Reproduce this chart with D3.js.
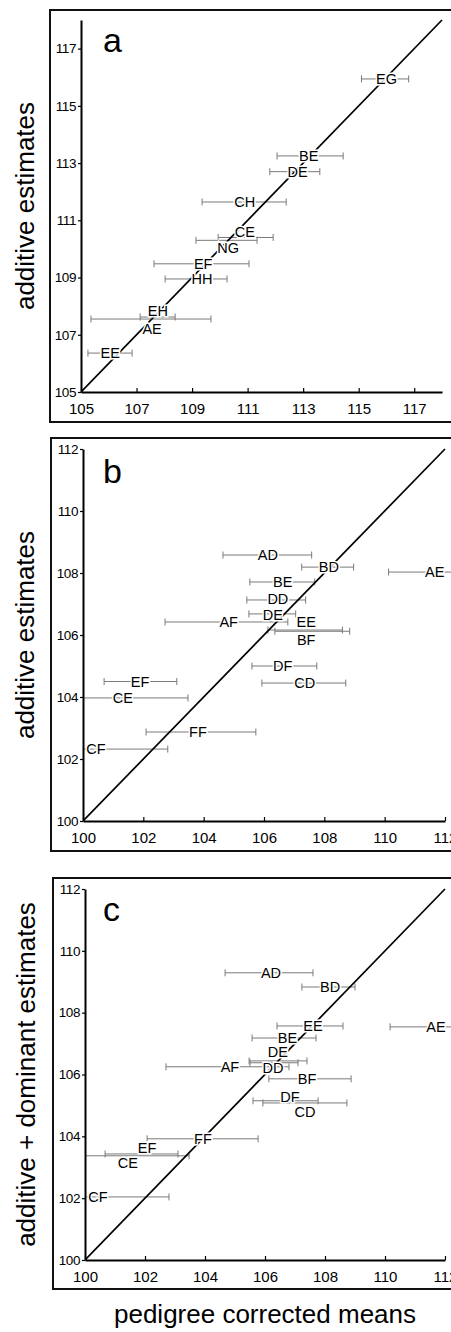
<!DOCTYPE html>
<html>
<head>
<meta charset="utf-8">
<script src="https://cdn.jsdelivr.net/npm/d3@7"></script>
<style>
  body { margin: 0; background: #fff; }
  text { font-family: "Liberation Sans", Arial, Helvetica, sans-serif; }
</style>
</head>
<body>
<div id="chart"></div>
<script>
var width = 451,
    height = 1332;

// panel a: additive estimates vs pedigree corrected means
var aCrosses = ["EG", "BE", "DE", "CH", "CE", "NG", "EF", "HH", "EH", "AE", "EE"];
var aMeans   = [116.0, 113.2, 112.8, 110.9, 110.9, 110.3, 109.4, 109.36, 107.77, 107.56, 106.05];
var aLow     = [115.1, 112.06, 111.8, 109.36, 109.94, 109.14, 107.63, 108.03, 107.13, 105.36, 105.25];
var aHigh    = [116.8, 114.44, 113.6, 112.39, 111.92, 111.34, 111.05, 110.26, 108.39, 109.68, 106.84];
var aEst     = [115.94, 113.25, 112.7, 111.64, 110.4, 110.3, 109.48, 108.95, 107.62, 107.55, 106.36];
var aTicks   = [105, 107, 109, 111, 113, 115, 117];

// panel b: additive estimates
var bCrosses = ["AD", "BD", "AE", "BE", "DD", "DE", "AF", "EE", "BF", "DF", "CD", "EF", "CE", "FF", "CF"];
var bMeans   = [106.13, 108.15, 111.66, 106.62, 106.46, 106.29, 104.83, 107.4, 107.4, 106.62, 107.35, 101.89, 101.32, 103.81, 100.43];
var bLow     = [104.64, 107.25, 110.13, 105.53, 105.43, 105.5, 102.72, 106.13, 106.36, 105.6, 105.93, 100.7, 99.2, 102.09, 99.6];
var bHigh    = [107.58, 108.97, 113.2, 107.68, 107.38, 107.05, 106.79, 108.6, 108.84, 107.75, 108.71, 103.11, 103.48, 105.73, 102.81];
var bEst     = [108.58, 108.19, 108.03, 107.71, 107.13, 106.68, 106.42, 106.16, 106.12, 105.0, 104.45, 104.5, 103.97, 102.87, 102.32];

// panel c: additive + dominant estimates
var cCrosses = ["AD", "BD", "EE", "AE", "BE", "DE", "DD", "AF", "BF", "DF", "CD", "FF", "EF", "CE", "CF"];
var cMeans   = [106.2, 108.17, 107.6, 111.7, 106.75, 106.43, 106.27, 104.83, 107.4, 106.83, 107.33, 103.93, 102.07, 101.43, 100.43];
var cLow     = [104.67, 107.23, 106.4, 110.17, 105.57, 105.47, 105.5, 102.7, 106.13, 105.6, 105.93, 102.07, 100.67, 99.2, 99.6];
var cHigh    = [107.6, 109.0, 108.6, 113.2, 107.7, 107.4, 107.1, 106.8, 108.87, 107.77, 108.73, 105.77, 103.1, 103.47, 102.8];
var cEst     = [109.29, 108.83, 107.57, 107.54, 107.18, 106.44, 106.38, 106.25, 105.86, 105.15, 105.08, 103.92, 103.43, 103.37, 102.04];

var bcTicks = [100, 102, 104, 106, 108, 110, 112];

// labels that sit above/below their bar instead of on it (px)
var nudge = {
  a: { CE: -6, NG: 7, EH: -6, AE: 10 },
  b: { EE: -8, BF: 8, DD: -1, DE: 1 },
  c: { DE: -9, DD: 5, DF: -4, CD: 9, EF: -6, CE: 7 }
};

var panels = [
  { key: "a", crosses: aCrosses, means: aMeans, lo: aLow, hi: aHigh, est: aEst,
    domain: [105, 118], ticks: aTicks, xr: [81, 442], yr: [392, 20],
    frame: [50, 10, 412], letter: [103, 52], title: "additive estimates", titleX: 34 },
  { key: "b", crosses: bCrosses, means: bMeans, lo: bLow, hi: bHigh, est: bEst,
    domain: [100, 112], ticks: bcTicks, xr: [83, 445], yr: [821, 449],
    frame: [51, 438, 413], letter: [103, 483], title: "additive estimates", titleX: 34 },
  { key: "c", crosses: cCrosses, means: cMeans, lo: cLow, hi: cHigh, est: cEst,
    domain: [100, 112], ticks: bcTicks, xr: [85, 445], yr: [1260, 889],
    frame: [53, 878, 411], letter: [103, 921], title: "additive + dominant estimates", titleX: 35 }
];

var svg = d3.select("#chart").append("svg")
    .attr("width", width)
    .attr("height", height);

panels.forEach(function(p) {
  var x = d3.scaleLinear().domain(p.domain).range(p.xr),
      y = d3.scaleLinear().domain(p.domain).range(p.yr);

  var g = svg.append("g");

  g.append("clipPath").attr("id", "clip-" + p.key)
    .append("rect")
      .attr("x", p.xr[0]).attr("y", p.yr[1] - 10)
      .attr("width", width - p.xr[0]).attr("height", p.yr[0] - p.yr[1] + 10);

  // frame
  g.append("rect")
      .attr("x", p.frame[0]).attr("y", p.frame[1])
      .attr("width", 460).attr("height", p.frame[2])
      .attr("fill", "none").attr("stroke", "#111").attr("stroke-width", 2);

  var rows = p.crosses.map(function(c, i) {
    return { name: c, mean: p.means[i], lo: p.lo[i], hi: p.hi[i], est: p.est[i] };
  });

  var plot = g.append("g").attr("clip-path", "url(#clip-" + p.key + ")");

  var bars = plot.selectAll("g.bar").data(rows).enter().append("g").attr("class", "bar")
      .attr("stroke", "#7a7a7a").attr("stroke-width", 1);
  bars.append("line")
      .attr("x1", function(d) { return x(d.lo); })
      .attr("x2", function(d) { return x(d.hi); })
      .attr("y1", function(d) { return y(d.est); })
      .attr("y2", function(d) { return y(d.est); });
  bars.selectAll("line.cap")
      .data(function(d) { return [[d.lo, d.est], [d.hi, d.est]]; })
    .enter().append("line").attr("class", "cap")
      .attr("x1", function(d) { return x(d[0]); })
      .attr("x2", function(d) { return x(d[0]); })
      .attr("y1", function(d) { return y(d[1]) - 3.5; })
      .attr("y2", function(d) { return y(d[1]) + 3.5; });

  // 1:1 line
  plot.append("line")
      .attr("x1", x(p.domain[0])).attr("y1", y(p.domain[0]))
      .attr("x2", x(p.domain[1])).attr("y2", y(p.domain[1]))
      .attr("stroke", "#000").attr("stroke-width", 1.7);

  g.selectAll("text.cross").data(rows).enter().append("text").attr("class", "cross")
      .attr("x", function(d) { return x(d.mean); })
      .attr("y", function(d) { return y(d.est) + (nudge[p.key][d.name] || 0); })
      .attr("dy", "0.36em")
      .attr("text-anchor", "middle")
      .style("font-size", "14.5px")
      .attr("fill", "#000")
      .attr("stroke", "#fff").attr("stroke-width", 3)
      .attr("paint-order", "stroke")
      .text(function(d) { return d.name; });

  // axes
  var yAxis = g.append("g")
      .attr("transform", "translate(" + p.xr[0] + ",0)")
      .call(d3.axisLeft(y).tickValues(p.ticks).tickSizeInner(3).tickSizeOuter(0).tickPadding(2));
  var xAxis = g.append("g")
      .attr("transform", "translate(0," + p.yr[0] + ")")
      .call(d3.axisBottom(x).tickValues(p.ticks).tickSizeInner(-4).tickSizeOuter(0).tickPadding(11));

  [yAxis, xAxis].forEach(function(a) {
    a.select(".domain").attr("stroke", "#000").attr("stroke-width", 2);
    a.selectAll(".tick line").attr("stroke", "#000").attr("stroke-width", 1.2);
    a.selectAll("text").attr("fill", "#000").style("font-family", "'Liberation Sans', Arial, sans-serif");
  });
  yAxis.selectAll("text").style("font-size", "13.5px").attr("letter-spacing", "-0.4px");
  xAxis.selectAll("text").style("font-size", "15px");

  // panel letter
  g.append("text")
      .attr("x", p.letter[0]).attr("y", p.letter[1])
      .style("font-size", "34px")
      .text(p.key);

  // y title
  g.append("text")
      .attr("transform", "translate(" + p.titleX + "," + ((p.yr[0] + p.yr[1]) / 2) + ")rotate(-90)")
      .attr("text-anchor", "middle")
      .style("font-size", "26px")
      .text(p.title);
});

svg.append("text")
    .attr("x", 265).attr("y", 1323)
    .attr("text-anchor", "middle")
    .style("font-size", "26px")
    .text("pedigree corrected means");
</script>
</body>
</html>
